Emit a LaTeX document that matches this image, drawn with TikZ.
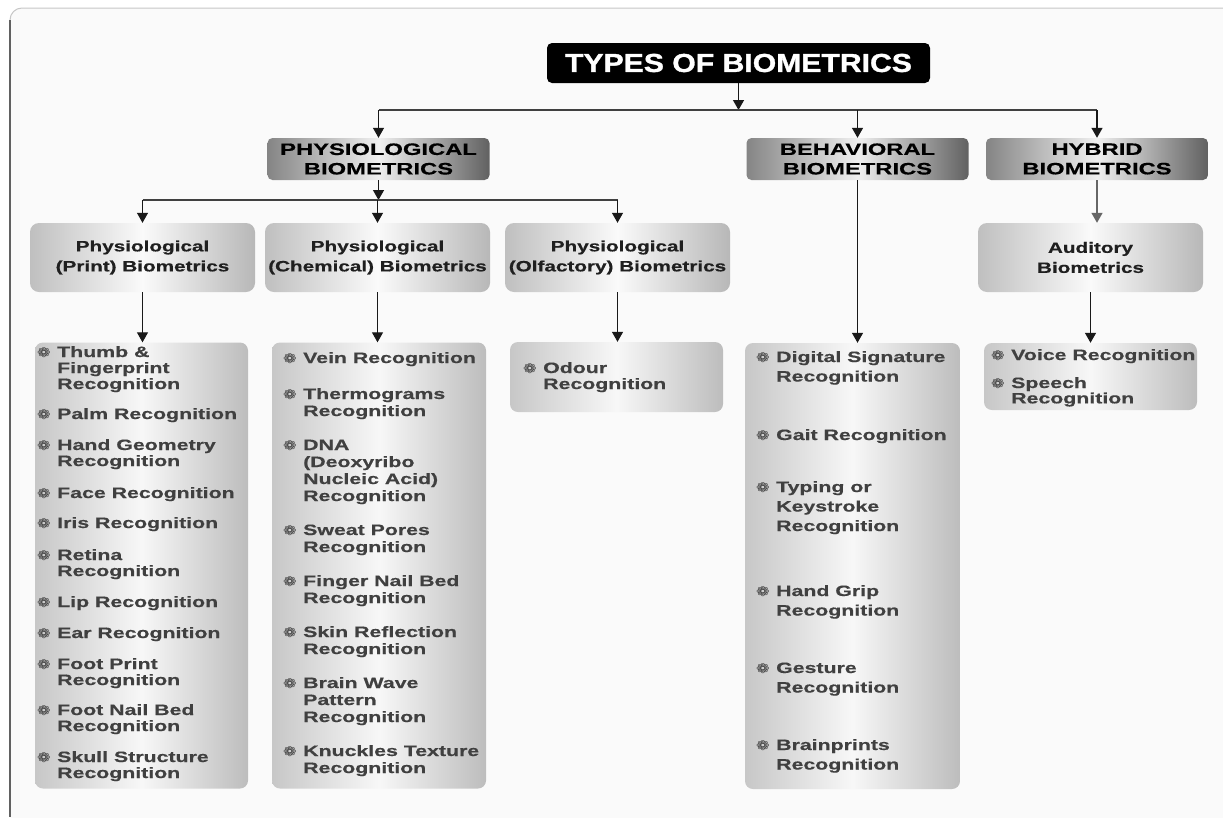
\documentclass[tikz,border=0pt]{standalone}
\usepackage{fontspec}
\setmainfont{Liberation Sans}
\newfontfamily\titlefont[FakeStretch=1.16, FakeBold=1.2]{Liberation Sans}
\newfontfamily\headfont[FakeStretch=1.44, FakeBold=0.6]{Liberation Sans}
\newfontfamily\subfont[FakeStretch=1.38, FakeBold=0.5]{Liberation Sans}
\newfontfamily\itemfont[FakeStretch=1.42, FakeBold=0.5]{Liberation Sans}
\newfontfamily\bulfont[FakeStretch=1.2]{DejaVu Sans}
\usetikzlibrary{arrows.meta}

% one bullet entry, lines after the first written as \\&...
\newcommand{\bitem}[1]{\begin{tabular}[t]{@{}p{20pt}@{}l@{}}{\bulfont\fontsize{13.5}{13.5}\selectfont\textcolor{black!78}{❁}}&#1\end{tabular}}

\begin{document}
\begin{tikzpicture}[
  x=1pt, y=-1pt,
  arr/.style={draw=black!90, line width=1.3pt, -{Triangle[width=11pt,length=10pt]}},
  bus/.style={draw=black!75, line width=1.2pt},
  lvlone/.style={rounded corners=5pt, minimum width=222pt, minimum height=42pt, inner sep=0pt,
    left color=black!48, right color=black!62, middle color=black!6, align=center, text=black,
    font={\headfont\bfseries\fontsize{16.5}{19.5}\selectfont}},
  lvltwo/.style={rounded corners=9pt, minimum width=225pt, minimum height=69pt, inner sep=0pt,
    left color=black!25, right color=black!28, middle color=black!2, align=center, text=black!88,
    font={\subfont\bfseries\fontsize{15}{20}\selectfont}},
  listbox/.style={rounded corners=8pt, inner sep=0pt, left color=black!22, right color=black!26, middle color=black!3},
  itm/.style={anchor=base west, inner sep=0pt, text=black!75, font={\itemfont\bfseries\fontsize{15}{#1}\selectfont}},
  itm/.default=16
]
  \useasboundingbox (0,0) rectangle (1223,817);

  % ==========================================
  % 1. FONDO Y MARCO
  % ==========================================
  \fill[white] (0,0) rectangle (1223,817);
  \fill[black!2, rounded corners=12pt] (10,8) rectangle (1236,830);
  \draw[black!22, line width=1pt, rounded corners=12pt] (10,40) -- (10,8) -- (1236,8);
  \draw[black!62, line width=2.2pt] (10,20) -- (10,817);

  % ==========================================
  % 2. CAJAS
  % ==========================================
  \node[fill=black, rounded corners=5pt, minimum width=383pt, minimum height=40pt, text=white,
    font={\titlefont\bfseries\fontsize{26}{30}\selectfont}] (title) at (738.5,63) {TYPES OF BIOMETRICS};

  \node[lvlone] (phys)  at (378.5,159) {PHYSIOLOGICAL\\BIOMETRICS};
  \node[lvlone] (behav) at (857.5,159) {BEHAVIORAL\\BIOMETRICS};
  \node[lvlone] (hyb)   at (1097,159)  {HYBRID\\BIOMETRICS};

  \node[lvltwo] (print) at (142.5,257.5)  {Physiological\\(Print) Biometrics};
  \node[lvltwo] (chem)  at (377.5,257.5)  {Physiological\\(Chemical) Biometrics};
  \node[lvltwo] (olf)   at (617.5,257.5)  {Physiological\\(Olfactory) Biometrics};
  \node[lvltwo] (aud)   at (1090.5,257.5) {Auditory\\Biometrics};

  \node[listbox, minimum width=213pt, minimum height=446pt] (printlist) at (141.5,565.5) {};
  \node[listbox, minimum width=214pt, minimum height=446pt] (chemlist)  at (379,565.5)   {};
  \node[listbox, minimum width=213pt, minimum height=70pt]  (olflist)   at (616.5,377)   {};
  \node[listbox, minimum width=215pt, minimum height=446pt] (behavlist) at (852.5,566)   {};
  \node[listbox, minimum width=213pt, minimum height=67pt]  (audlist)   at (1090.5,376.5) {};

  % ==========================================
  % 3. CONECTORES
  % ==========================================
  \coordinate (bus1) at (738.5,110);
  \coordinate (bus2) at (378.5,200);

  \draw[arr] (title.south) -- (bus1);
  \draw[bus] (phys.north |- bus1) -- (hyb.north |- bus1);
  \draw[arr] (phys.north |- bus1) -- (phys.north);
  \draw[arr] (behav.north |- bus1) -- (behav.north);
  \draw[arr] (hyb.north |- bus1) -- (hyb.north);

  \draw[arr] (phys.south) -- (bus2);
  \draw[bus] (print.north |- bus2) -- (olf.north |- bus2);
  \draw[arr] (print.north |- bus2) -- (print.north);
  \draw[arr] (chem.north |- bus2) -- (chem.north);
  \draw[arr] (olf.north |- bus2) -- (olf.north);

  \draw[arr] (print.south) -- (print.south |- printlist.north);
  \draw[arr] (chem.south) -- (chem.south |- chemlist.north);
  \draw[arr] (olf.south) -- (olf.south |- olflist.north);
  \draw[arr] (behav.south) -- (behav.south |- behavlist.north);
  \draw[arr, draw=black!60] (hyb.south) -- (hyb.south |- aud.north);
  \draw[arr] (aud.south) -- (aud.south |- audlist.north);

  % ==========================================
  % 4. LISTAS
  % ==========================================
  \node[itm] (p1)  at (37,357) {\bitem{Thumb \&\\&Fingerprint\\&Recognition}};
  \node[itm] (p2)  at (37,419) {\bitem{Palm Recognition}};
  \node[itm] (p3)  at (37,450) {\bitem{Hand Geometry\\&Recognition}};
  \node[itm] (p4)  at (37,498) {\bitem{Face Recognition}};
  \node[itm] (p5)  at (37,528) {\bitem{Iris Recognition}};
  \node[itm] (p6)  at (37,560) {\bitem{Retina\\&Recognition}};
  \node[itm] (p7)  at (37,607) {\bitem{Lip Recognition}};
  \node[itm] (p8)  at (37,638) {\bitem{Ear Recognition}};
  \node[itm] (p9)  at (37,669) {\bitem{Foot Print\\&Recognition}};
  \node[itm] (p10) at (37,715) {\bitem{Foot Nail Bed\\&Recognition}};
  \node[itm] (p11) at (37,762) {\bitem{Skull Structure\\&Recognition}};

  \node[itm=17] (c1) at (283,363) {\bitem{Vein Recognition}};
  \node[itm=17] (c2) at (283,399) {\bitem{Thermograms\\&Recognition}};
  \node[itm=17] (c3) at (283,450) {\bitem{DNA\\&(Deoxyribo\\&Nucleic Acid)\\&Recognition}};
  \node[itm=17] (c4) at (283,535) {\bitem{Sweat Pores\\&Recognition}};
  \node[itm=17] (c5) at (283,586) {\bitem{Finger Nail Bed\\&Recognition}};
  \node[itm=17] (c6) at (283,637) {\bitem{Skin Reflection\\&Recognition}};
  \node[itm=17] (c7) at (283,688) {\bitem{Brain Wave\\&Pattern\\&Recognition}};
  \node[itm=17] (c8) at (283,756) {\bitem{Knuckles Texture\\&Recognition}};

  \node[itm] (o1) at (523,373) {\bitem{Odour\\&Recognition}};

  \node[itm=19.5] (b1) at (756,362) {\bitem{Digital Signature\\&Recognition}};
  \node[itm=19.5] (b2) at (756,440) {\bitem{Gait Recognition}};
  \node[itm=19.5] (b3) at (756,492) {\bitem{Typing or\\&Keystroke\\&Recognition}};
  \node[itm=19.5] (b4) at (756,596) {\bitem{Hand Grip\\&Recognition}};
  \node[itm=19.5] (b5) at (756,673) {\bitem{Gesture\\&Recognition}};
  \node[itm=19.5] (b6) at (756,750) {\bitem{Brainprints\\&Recognition}};

  \node[itm=15] (a1) at (991,360) {\bitem{Voice Recognition}};
  \node[itm=15] (a2) at (991,388) {\bitem{Speech\\&Recognition}};

\end{tikzpicture}
\end{document}
